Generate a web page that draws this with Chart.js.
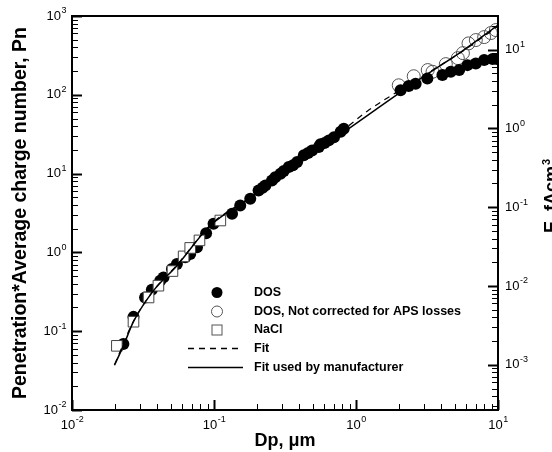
<!DOCTYPE html>
<html>
<head>
<meta charset="utf-8">
<script src="https://cdn.jsdelivr.net/npm/chart.js@4.4.0/dist/chart.umd.min.js"></script>
<style>
  html, body { margin: 0; padding: 0; background: #fff; }
  #wrap { width: 552px; height: 452px; }
</style>
</head>
<body>
<div id="wrap"><canvas id="chart" width="552" height="452"></canvas></div>
<script>
// DOS, filled circles
const dosX = [0.0230, 0.0271, 0.0327, 0.0365, 0.0418, 0.0441, 0.0505, 0.0548, 0.0627, 0.0680,
  0.0759, 0.088, 0.0993, 0.134, 0.153, 0.180, 0.206, 0.22, 0.230, 0.256, 0.27, 0.294, 0.31,
  0.336, 0.36, 0.385, 0.429, 0.46, 0.491, 0.547, 0.562, 0.6, 0.644, 0.7, 0.78, 0.82,
  2.06, 2.35, 2.63, 3.18, 4.06, 4.65, 5.33, 6.10, 6.98, 7.99, 9.16, 9.83];
const dosY = [0.0686, 0.152, 0.268, 0.336, 0.438, 0.482, 0.617, 0.714, 0.867, 0.957,
  1.16, 1.75, 2.31, 3.09, 3.94, 4.80, 6.11, 6.6, 7.08, 8.20, 9.0, 9.97, 10.8,
  12.1, 12.8, 14.0, 17.1, 18.2, 19.7, 21.7, 23.5, 24.5, 26.4, 29, 34, 37,
  114, 129, 138, 161, 178, 196, 206, 238, 250, 276, 284, 284];

// DOS, not corrected for APS losses (open circles)
const dosRawX = [2.00, 2.55, 3.20, 3.46, 4.29, 5.21, 5.66, 6.20, 6.98, 7.99, 8.91, 9.66];
const dosRawY = [132, 172, 206, 196, 245, 292, 338, 449, 495, 540, 608, 663];

// NaCl (open squares)
const naclX = [0.0207, 0.0271, 0.0346, 0.0406, 0.0510, 0.0611, 0.0680, 0.0790, 0.1108];
const naclY = [0.0652, 0.132, 0.268, 0.378, 0.580, 0.890, 1.14, 1.42, 2.54];

// Fit (dashed)
const fitX = [0.0200, 0.0271, 0.0375, 0.0548, 0.0941, 0.180, 0.406, 0.818, 1.20, 2.064, 3.25, 5.47, 10];
const fitY = [0.038, 0.134, 0.330, 0.69, 2.22, 5.0, 14.4, 36, 62, 116, 192, 345, 740];

// Fit used by manufacturer (solid)
const makerX = [0.0199, 0.0230, 0.0271, 0.0375, 0.0548, 0.0941, 0.180, 0.406, 0.818, 2.064, 3.25, 5.47, 10];
const makerY = [0.037, 0.0652, 0.132, 0.327, 0.679, 2.19, 4.9, 13.9, 33.4, 108, 188, 348, 768];

// axis decades (exponents of 10)
const xDecades = [-2, -1, 0, 1];
const yDecades = [-2, -1, 0, 1, 2, 3];
const y2Decades = [-3, -2, -1, 0, 1];
const y2Range = [2.67e-4, 26.7];

const legendItems = ['DOS', 'DOS, Not corrected for APS losses', 'NaCl', 'Fit', 'Fit used by manufacturer'];
const xTitle = 'Dp, \u03bcm';
const yTitle = 'Penetration*Average charge number, Pn';
const y2Title = 'E, fAcm';

const FONT = '"Liberation Sans", Arial, Helvetica, sans-serif';

const pts = (xs, ys) => xs.map((x, i) => ({ x, y: ys[i] }));

function drawPow(ctx, exp, x, y, align) {
  ctx.font = '13px ' + FONT;
  const w1 = ctx.measureText('10').width;
  ctx.font = '9px ' + FONT;
  const w2 = ctx.measureText(String(exp)).width;
  let start = x - (w1 + w2) / 2;
  if (align === 'right') start = x - w1 - w2;
  if (align === 'left') start = x;
  ctx.textAlign = 'left';
  ctx.textBaseline = 'middle';
  ctx.font = '13px ' + FONT;
  ctx.fillText('10', start, y);
  ctx.font = '9px ' + FONT;
  ctx.fillText(String(exp), start + w1 + 0.5, y - 5);
}

function logTicks(lo, hi) {
  const out = [];
  for (let d = Math.floor(Math.log10(lo)) - 1; d <= Math.ceil(Math.log10(hi)); d++) {
    for (let k = 1; k <= 9; k++) {
      const v = k * Math.pow(10, d);
      if (v >= lo * 0.999 && v <= hi * 1.001) out.push({ v, major: k === 1 });
    }
  }
  return out;
}

const axesPlugin = {
  id: 'axesPlugin',
  afterDraw(chart) {
    const ctx = chart.ctx;
    const a = chart.chartArea;
    const xs = chart.scales.x, ys = chart.scales.y, y2 = chart.scales.y2;
    ctx.save();
    ctx.strokeStyle = '#000';
    ctx.fillStyle = '#000';

    // tick marks, pointing inward
    logTicks(xs.min, xs.max).forEach(t => {
      const px = Math.round(xs.getPixelForValue(t.v)) + 0.5;
      ctx.lineWidth = t.major ? 2 : 1;
      ctx.beginPath();
      ctx.moveTo(px, a.bottom);
      ctx.lineTo(px, a.bottom - (t.major ? 10 : 6));
      ctx.stroke();
    });
    logTicks(ys.min, ys.max).forEach(t => {
      const py = Math.round(ys.getPixelForValue(t.v)) + 0.5;
      ctx.lineWidth = t.major ? 2 : 1;
      ctx.beginPath();
      ctx.moveTo(a.left, py);
      ctx.lineTo(a.left + (t.major ? 10 : 6), py);
      ctx.stroke();
    });
    logTicks(y2.min, y2.max).forEach(t => {
      const py = Math.round(y2.getPixelForValue(t.v)) + 0.5;
      ctx.lineWidth = t.major ? 2 : 1;
      ctx.beginPath();
      ctx.moveTo(a.right, py);
      ctx.lineTo(a.right - (t.major ? 10 : 6), py);
      ctx.stroke();
    });

    // frame
    ctx.lineWidth = 2;
    ctx.strokeRect(a.left, a.top, a.right - a.left, a.bottom - a.top);

    // tick labels
    xDecades.forEach(d => drawPow(ctx, d, xs.getPixelForValue(Math.pow(10, d)), a.bottom + 15, 'center'));
    yDecades.forEach(d => drawPow(ctx, d, a.left - 6, ys.getPixelForValue(Math.pow(10, d)), 'right'));
    y2Decades.forEach(d => drawPow(ctx, d, a.right + 7, y2.getPixelForValue(Math.pow(10, d)), 'left'));

    // axis titles
    ctx.font = 'bold 18px ' + FONT;
    ctx.textAlign = 'center';
    ctx.textBaseline = 'middle';
    ctx.fillText(xTitle, (a.left + a.right) / 2, 441);

    ctx.save();
    ctx.font = 'bold 19.5px ' + FONT;
    ctx.translate(21, (a.top + a.bottom) / 2);
    ctx.rotate(-Math.PI / 2);
    ctx.fillText(yTitle, 0, 0);
    ctx.restore();

    ctx.save();
    ctx.translate(557, 233);
    ctx.rotate(-Math.PI / 2);
    ctx.textAlign = 'left';
    ctx.textBaseline = 'alphabetic';
    ctx.fillText(y2Title, 0, 0);
    const tw = ctx.measureText(y2Title).width;
    ctx.font = 'bold 11px ' + FONT;
    ctx.fillText('3', tw + 1, -7);
    ctx.restore();

    // legend
    const lx = 217, tx = 254, rowY = [292.5, 311.5, 330, 348.5, 367.5];
    ctx.font = 'bold 12.5px ' + FONT;
    ctx.textAlign = 'left';
    ctx.textBaseline = 'middle';
    legendItems.forEach((label, i) => ctx.fillText(label, tx, rowY[i]));

    ctx.beginPath();
    ctx.arc(lx, rowY[0], 5.5, 0, Math.PI * 2);
    ctx.fill();

    ctx.lineWidth = 1;
    ctx.strokeStyle = '#555';
    ctx.beginPath();
    ctx.arc(lx, rowY[1], 5.5, 0, Math.PI * 2);
    ctx.stroke();
    ctx.strokeRect(lx - 5, rowY[2] - 5, 10, 10);

    ctx.strokeStyle = '#000';
    ctx.lineWidth = 1.5;
    ctx.setLineDash([6, 5]);
    ctx.beginPath();
    ctx.moveTo(188, rowY[3]);
    ctx.lineTo(243, rowY[3]);
    ctx.stroke();
    ctx.setLineDash([]);
    ctx.beginPath();
    ctx.moveTo(188, rowY[4]);
    ctx.lineTo(243, rowY[4]);
    ctx.stroke();

    ctx.restore();
  }
};

const hiddenAxis = {
  grid: { display: false, drawTicks: false },
  border: { display: false },
  ticks: { display: false },
  title: { display: false }
};

new Chart(document.getElementById('chart'), {
  type: 'scatter',
  data: {
    datasets: [
      {
        label: legendItems[4],
        data: pts(makerX, makerY),
        showLine: true,
        borderColor: '#000',
        borderWidth: 1.5,
        pointRadius: 0,
        cubicInterpolationMode: 'monotone'
      },
      {
        label: legendItems[3],
        data: pts(fitX, fitY),
        showLine: true,
        borderColor: '#000',
        borderWidth: 1.2,
        borderDash: [6, 5],
        pointRadius: 0,
        cubicInterpolationMode: 'monotone'
      },
      {
        label: legendItems[2],
        data: pts(naclX, naclY),
        pointStyle: 'rect',
        pointRadius: 7.5,
        pointBackgroundColor: '#fff',
        pointBorderColor: '#444',
        pointBorderWidth: 1
      },
      {
        label: legendItems[0],
        data: pts(dosX, dosY),
        pointStyle: 'circle',
        pointRadius: 6,
        pointBackgroundColor: '#000',
        pointBorderColor: '#000',
        pointBorderWidth: 0
      },
      {
        label: legendItems[1],
        data: pts(dosRawX, dosRawY),
        pointStyle: 'circle',
        pointRadius: 6.5,
        pointBackgroundColor: 'rgba(255,255,255,0)',
        pointBorderColor: '#555',
        pointBorderWidth: 1
      }
    ]
  },
  options: {
    responsive: false,
    animation: false,
    devicePixelRatio: 1,
    layout: { padding: { left: 72, top: 16, right: 54, bottom: 42 } },
    plugins: { legend: { display: false }, tooltip: { enabled: false } },
    scales: {
      x: Object.assign({ type: 'logarithmic', min: 0.01, max: 10 }, hiddenAxis),
      y: Object.assign({ type: 'logarithmic', position: 'left', min: 0.01, max: 1000 }, hiddenAxis),
      y2: Object.assign({ type: 'logarithmic', position: 'right', min: y2Range[0], max: y2Range[1] }, hiddenAxis)
    }
  },
  plugins: [axesPlugin]
});
</script>
</body>
</html>
